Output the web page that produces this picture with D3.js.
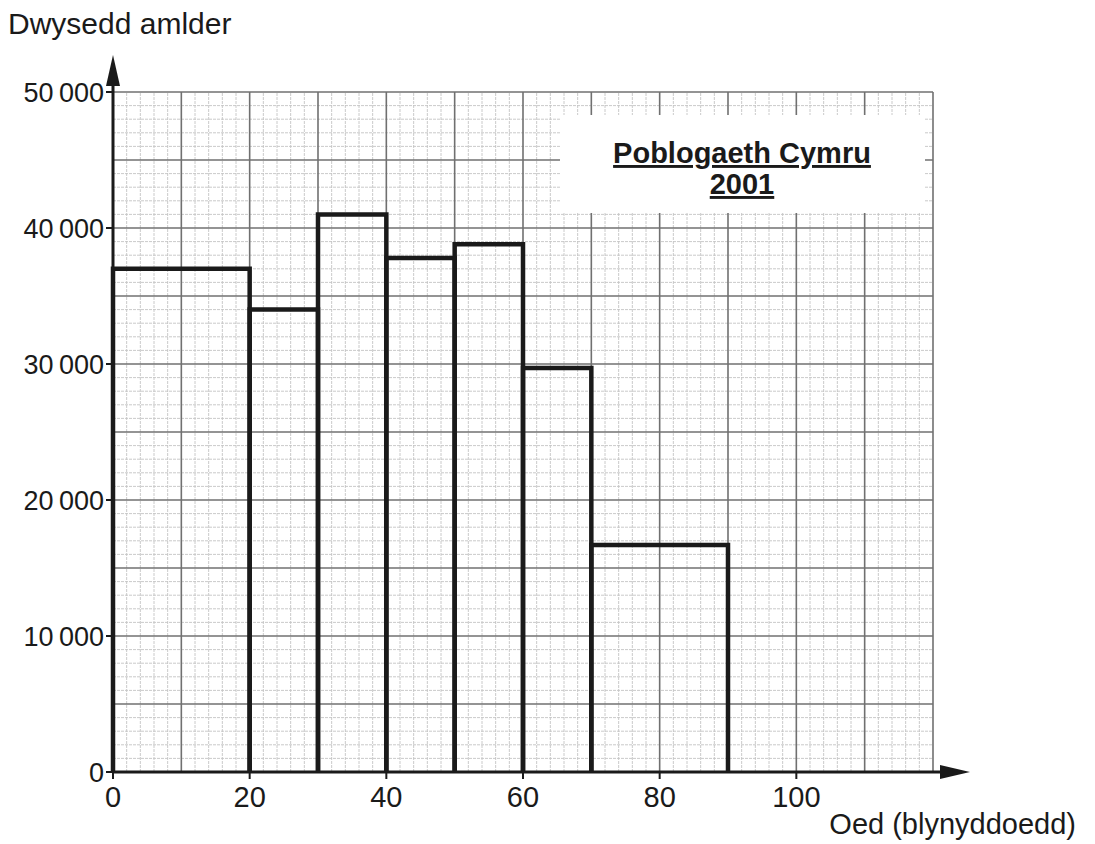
<!DOCTYPE html>
<html>
<head>
<meta charset="utf-8">
<script src="https://cdn.jsdelivr.net/npm/d3@7"></script>
<style>
  body { margin: 0; background: #fff; }
  text { font-family: "Liberation Sans", Arial, sans-serif; fill: #1a1a1a; }
</style>
</head>
<body>
<div id="chart"></div>
<script>
// histogram data: age class boundaries and frequency density
const ageStart = [0, 20, 30, 40, 50, 60, 70];
const ageEnd = [20, 30, 40, 50, 60, 70, 90];
const density = [37000, 34000, 41000, 37800, 38800, 29700, 16700];
const xTicks = [0, 20, 40, 60, 80, 100];
const yTicks = [0, 10000, 20000, 30000, 40000, 50000];
const yTickLabels = ["0", "10\u2009000", "20\u2009000", "30\u2009000", "40\u2009000", "50\u2009000"];
const titleLines = ["Poblogaeth Cymru", "2001"];

const width = 1095, height = 844;
const svg = d3.select("#chart").append("svg")
  .attr("width", width)
  .attr("height", height);

const x = d3.scaleLinear().domain([0, 120]).range([113, 933]);
const y = d3.scaleLinear().domain([0, 50000]).range([772, 92]);

// graph paper
const grid = svg.append("g");
const minorX = d3.range(0, 121, 2), minorY = d3.range(0, 50001, 1000);
grid.selectAll(".vminor").data(minorX.filter(d => d % 10 !== 0)).join("line")
  .attr("x1", d => x(d)).attr("x2", d => x(d))
  .attr("y1", y(0)).attr("y2", y(50000))
  .attr("stroke", "#c4c4c4").attr("stroke-width", 0.9)
  .attr("stroke-dasharray", "3,1");
grid.selectAll(".hminor").data(minorY.filter(d => d % 5000 !== 0)).join("line")
  .attr("y1", d => y(d)).attr("y2", d => y(d))
  .attr("x1", x(0)).attr("x2", x(120))
  .attr("stroke", "#c4c4c4").attr("stroke-width", 0.9)
  .attr("stroke-dasharray", "3,1");
grid.selectAll(".vmajor").data(d3.range(10, 121, 10)).join("line")
  .attr("x1", d => x(d)).attr("x2", d => x(d))
  .attr("y1", y(0)).attr("y2", y(50000))
  .attr("stroke", "#707070").attr("stroke-width", 1.6);
grid.selectAll(".hmajor").data(d3.range(5000, 50001, 5000)).join("line")
  .attr("y1", d => y(d)).attr("y2", d => y(d))
  .attr("x1", x(0)).attr("x2", x(120))
  .attr("stroke", "#707070").attr("stroke-width", 1.6);

// title box (paper blanked out)
svg.append("rect")
  .attr("x", 560).attr("y", 115)
  .attr("width", 365).attr("height", 98)
  .attr("fill", "#fff");

const title = svg.append("g");
title.selectAll("text").data(titleLines).join("text")
  .attr("x", 742)
  .attr("y", (d, i) => 163 + i * 31)
  .attr("text-anchor", "middle")
  .attr("font-size", 29)
  .attr("font-weight", "bold")
  .attr("text-decoration", "underline")
  .text(d => d);

// bars
svg.append("g").selectAll("path")
  .data(density)
  .join("path")
  .attr("d", (d, i) => {
    const x0 = x(ageStart[i]), x1 = x(ageEnd[i]), y0 = y(0), y1 = y(d);
    return `M${x0},${y0}V${y1}H${x1}V${y0}`;
  })
  .attr("fill", "none")
  .attr("stroke", "#1a1a1a")
  .attr("stroke-width", 4.5)
  .attr("stroke-linejoin", "miter");

// axes
const ax = svg.append("g").attr("stroke", "#1a1a1a");
ax.append("line")
  .attr("x1", x(0)).attr("x2", 945)
  .attr("y1", y(0)).attr("y2", y(0))
  .attr("stroke-width", 3);
ax.append("path")
  .attr("d", `M940,${y(0) - 7}L970,${y(0)}L940,${y(0) + 7}Z`)
  .attr("fill", "#1a1a1a").attr("stroke", "none");
ax.append("line")
  .attr("x1", x(0)).attr("x2", x(0))
  .attr("y1", y(0)).attr("y2", 82)
  .attr("stroke-width", 3);
ax.append("path")
  .attr("d", `M${x(0) - 7},86L${x(0)},55L${x(0) + 7},86Z`)
  .attr("fill", "#1a1a1a").attr("stroke", "none");

// y ticks
ax.selectAll(".ytick").data(yTicks).join("line")
  .attr("x1", x(0) - 7).attr("x2", x(0))
  .attr("y1", d => y(d)).attr("y2", d => y(d))
  .attr("stroke-width", 2);
svg.append("g").selectAll("text").data(yTicks).join("text")
  .attr("x", x(0) - 9)
  .attr("y", d => y(d) + 10)
  .attr("text-anchor", "end")
  .attr("font-size", 27)
  .text((d, i) => yTickLabels[i]);

// x ticks
ax.selectAll(".xtick").data(xTicks).join("line")
  .attr("x1", d => x(d)).attr("x2", d => x(d))
  .attr("y1", y(0)).attr("y2", y(0) + 7)
  .attr("stroke-width", 2);
svg.append("g").selectAll("text").data(xTicks).join("text")
  .attr("x", d => x(d))
  .attr("y", 807)
  .attr("text-anchor", "middle")
  .attr("font-size", 29)
  .text(d => d);

// axis labels
svg.append("text")
  .attr("x", 8).attr("y", 34)
  .attr("font-size", 30)
  .text("Dwysedd amlder");
svg.append("text")
  .attr("x", 1076).attr("y", 834)
  .attr("text-anchor", "end")
  .attr("font-size", 29)
  .text("Oed (blynyddoedd)");
</script>
</body>
</html>
